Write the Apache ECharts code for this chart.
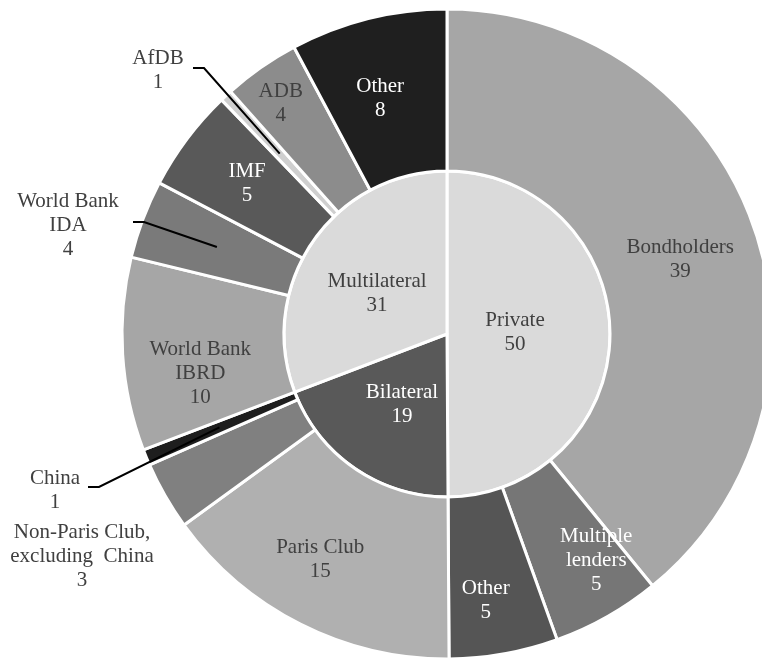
<!DOCTYPE html>
<html><head><meta charset="utf-8">
<script src="https://cdn.jsdelivr.net/npm/echarts@6/dist/echarts.min.js"></script>
<style>html,body{margin:0;padding:0;background:#fff}#chart{width:762px;height:661px}</style>
</head><body><div id="chart"></div>
<script>
// ---- data ----
const groupNames = ['Private', 'Bilateral', 'Multilateral'];
const groupValues = [49.9, 19.3, 30.8];
const lenderNames = ['Bondholders', 'Multiple\nlenders', 'Other', 'Paris Club',
  'Non-Paris Club,\nexcluding  China', 'China', 'World Bank\nIBRD', 'World Bank\nIDA',
  'IMF', 'AfDB', 'ADB', 'Other'];
const lenderValues = [39.1, 5.4, 5.4, 15.1, 3.4, 0.8, 9.6, 3.9, 5.1, 0.6, 3.8, 7.8];

// ---- styles ----
const groupColors = ['#dadada', '#595959', '#dadada'];
const groupText = ['#404040', '#ffffff', '#404040'];
const lenderColors = ['#a6a6a6', '#767676', '#555555', '#b0b0b0', '#808080', '#1e1e1e',
  '#a6a6a6', '#7a7a7a', '#595959', '#cfcfcf', '#8c8c8c', '#1f1f1f'];
const lenderText = ['#404040', '#ffffff', '#ffffff', '#404040', '#404040', '#404040',
  '#404040', '#404040', '#ffffff', '#404040', '#404040', '#ffffff'];

const CX = 447, CY = 334, R0 = 163, R1 = 325;
const FONT = {fontFamily: '"Liberation Serif","Times New Roman",serif', fontSize: 21, lineHeight: 24};

// label placement (layout): radius and angular shift in degrees
const groupLabelR = [68, 84, 81];
const groupLabelShift = [-1.5, -2, -4.2];
const lenderLabelR = [245, 271, 269, 259, null, null, 250, null, 250, null, 284, 245];
const lenderLabelShift = [1.8, -3.9, 1.8, 2.5, 0, 0, -5.6, 0, 0, 0, -0.9, -1.8];
const outsideLabels = {
  4: {x: 82, y: 556},
  5: {x: 55, y: 490, line: [88, 487]},
  7: {x: 68, y: 225, line: [133, 222]},
  9: {x: 158, y: 70, line: [193, 68]}
};

function mids(vals) {
  const t = vals.reduce((a, b) => a + b, 0);
  let acc = 0;
  return vals.map(v => { const m = (acc + v / 2) / t * 2 * Math.PI; acc += v; return m; });
}
function polar(a, r) { return [CX + r * Math.sin(a), CY - r * Math.cos(a)]; }
const D2R = Math.PI / 180;
const groupMid = mids(groupValues);
const lenderMid = mids(lenderValues);

const chart = echarts.init(document.getElementById('chart'), null, {renderer: 'canvas'});
const fmt = p => p.name + '\n' + Math.round(p.value);
const baseLabel = Object.assign({position: 'inside', formatter: fmt, align: 'center'}, FONT);

chart.setOption({
  backgroundColor: '#ffffff',
  animation: false,
  series: [
    {
      type: 'pie', z: 2, center: [CX, CY], radius: [0, R0], startAngle: 90, clockwise: true,
      avoidLabelOverlap: false, silent: true,
      itemStyle: {borderColor: '#ffffff', borderWidth: 3},
      label: baseLabel,
      labelLine: {show: false},
      labelLayout: p => {
        const i = p.dataIndex;
        const pt = polar(groupMid[i] + groupLabelShift[i] * D2R, groupLabelR[i]);
        return {x: pt[0], y: pt[1], align: 'center', verticalAlign: 'middle'};
      },
      data: groupNames.map((n, i) => ({
        name: n, value: groupValues[i],
        itemStyle: {color: groupColors[i]},
        label: {color: groupText[i]}
      }))
    },
    {
      type: 'pie', z: 2, center: [CX, CY], radius: [R0, R1], startAngle: 90, clockwise: true,
      avoidLabelOverlap: false, silent: true,
      itemStyle: {borderColor: '#ffffff', borderWidth: 3},
      label: baseLabel,
      labelLine: {show: false},
      labelLayout: p => {
        const i = p.dataIndex;
        if (outsideLabels[i]) return {};
        const pt = polar(lenderMid[i] + lenderLabelShift[i] * D2R, lenderLabelR[i]);
        return {x: pt[0], y: pt[1], align: 'center', verticalAlign: 'middle'};
      },
      data: lenderNames.map((n, i) => ({
        name: n, value: lenderValues[i],
        itemStyle: {color: lenderColors[i]},
        label: outsideLabels[i] ? {show: false} : {color: lenderText[i]}
      }))
    },
    {
      // overlay: outside labels and leader lines drawn above the ring
      type: 'pie', z: 5, center: [CX, CY], radius: [R0, R1], startAngle: 90, clockwise: true,
      avoidLabelOverlap: false, silent: true,
      itemStyle: {color: 'rgba(0,0,0,0)', borderWidth: 0},
      label: Object.assign({}, baseLabel, {position: 'outside'}),
      labelLine: {show: false, lineStyle: {color: '#000000', width: 2}},
      labelLayout: p => {
        const i = p.dataIndex;
        const o = outsideLabels[i];
        if (!o) return {};
        const res = {x: o.x, y: o.y, align: 'center', verticalAlign: 'middle'};
        if (o.line) {
          const end = polar(lenderMid[i], 246);
          res.labelLinePoints = [[o.line[0], o.line[1]], [o.line[0] + 11, o.line[1]], end];
        }
        return res;
      },
      data: lenderNames.map((n, i) => {
        const o = outsideLabels[i];
        return {
          name: n, value: lenderValues[i],
          itemStyle: {color: 'rgba(0,0,0,0)'},
          label: o ? {show: true, color: lenderText[i]} : {show: false},
          labelLine: o && o.line ? {show: true, length: 10, length2: 10,
            lineStyle: {color: '#000000', width: 2}} : {show: false}
        };
      })
    }
  ]
});
</script>
</body></html>
